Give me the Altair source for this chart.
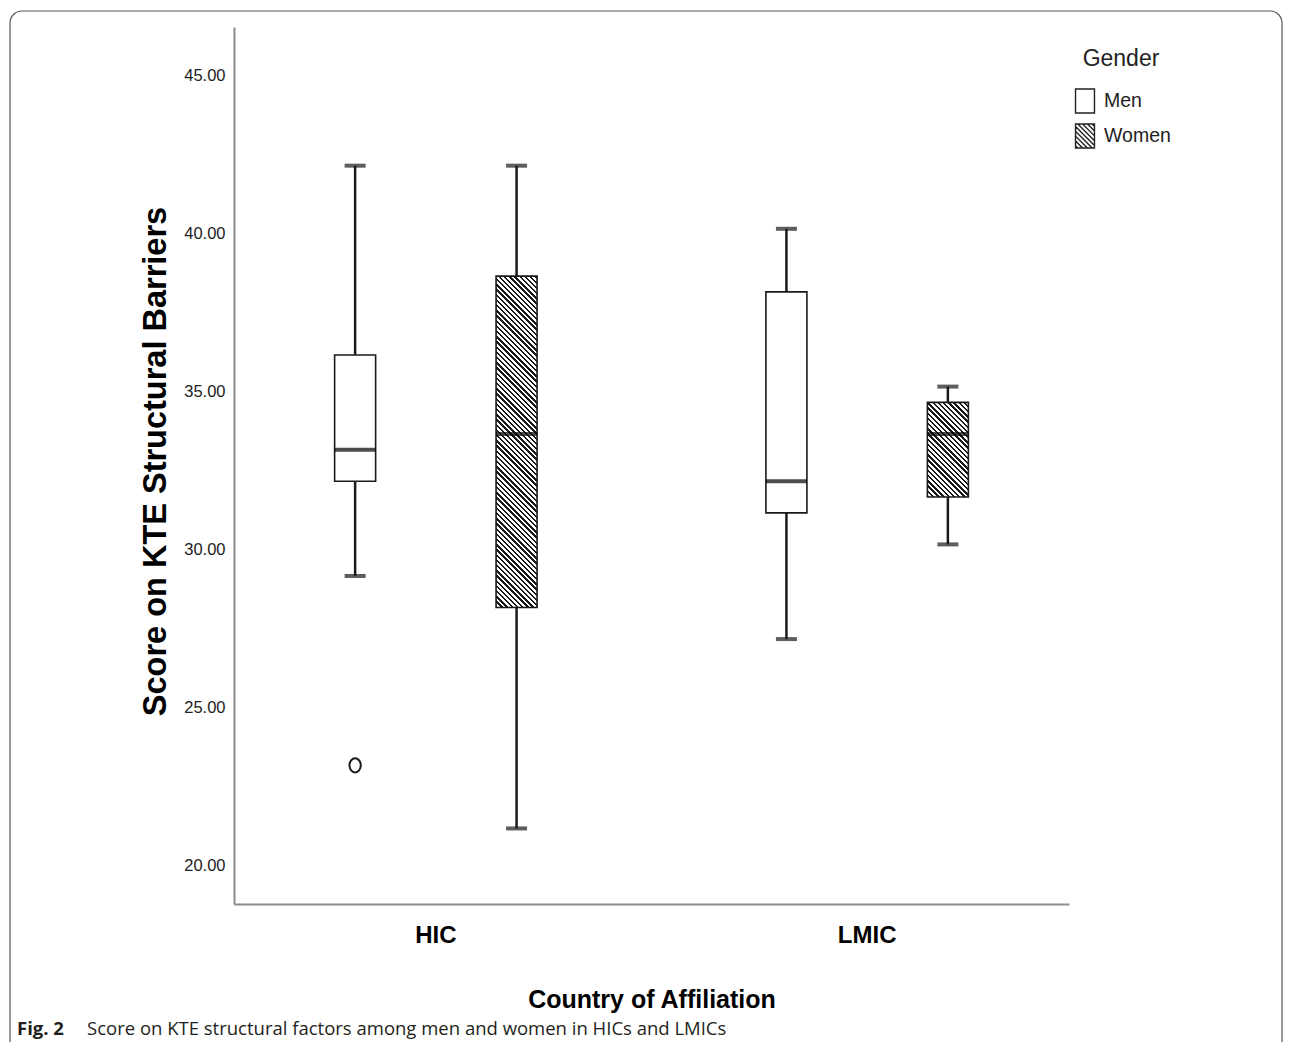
import altair as alt
import pandas as pd

# ---------------- data ----------------
countries = ["HIC", "HIC", "LMIC", "LMIC"]
genders = ["Men", "Women", "Men", "Women"]
whisker_low = [29, 21, 27, 30]
quartile_1 = [32, 28, 31, 31.5]
medians = [33, 33.5, 32, 33.5]
quartile_3 = [36, 38.5, 38, 34.5]
whisker_high = [42, 42, 40, 35]

outlier_country = ["HIC"]
outlier_gender = ["Men"]
outlier_value = [23]

country_order = ["HIC", "LMIC"]
gender_order = ["Men", "Women"]
y_ticks = [20, 25, 30, 35, 40, 45]

caption_label = ["Fig. 2"]
caption_text = ["Score on KTE structural factors among men and women in HICs and LMICs"]

# ---------------- layout / style ----------------
PLOT_W, PLOT_H = 835, 877
Y_DOMAIN = [18.606, 46.394]
PX_PER_UNIT = PLOT_H / (Y_DOMAIN[1] - Y_DOMAIN[0])
BOX_W = 41
INK = "#1a1a1a"
AXIS_GRAY = "#8c8c8c"
SANS = "Liberation Sans, Arial, sans-serif"
CAPTION_FONT = "Open Sans, Noto Sans, sans-serif"

box = pd.DataFrame({
    "country": countries, "gender": genders, "lower": whisker_low,
    "q1": quartile_1, "median": medians, "q3": quartile_3, "upper": whisker_high,
})
outliers = pd.DataFrame({"country": outlier_country, "gender": outlier_gender,
                         "value": outlier_value})


def hatch_gradient(w, h, spacing=5.2, ink=0.45):
    """Diagonal '\\' hatching as a striped linear gradient (bounding-box units)."""
    t = (w + h) / (w * w + h * h)
    n = (w + h) / spacing
    stops = []
    k = 0
    while k / n < 1:
        a = k / n
        b = min((k + ink) / n, 1.0)
        c = min((k + 1) / n, 1.0)
        stops += [
            {"offset": a, "color": INK}, {"offset": b, "color": INK},
            {"offset": b, "color": "white"}, {"offset": c, "color": "white"},
        ]
        k += 1
    return alt.LinearGradient(gradient="linear", stops=stops,
                              x1=0, y1=1, x2=t * w, y2=1 - t * h)


# legend symbol paths
HW = 0.79
MEN_PATH = f"M{-HW},-1H{HW}V1H{-HW}Z"
segs = []
c = -1.6
while c <= 1.61:
    x0 = max(-HW, c - 1)
    x1 = min(HW, c + 1)
    if x1 > x0:
        segs.append(f"M{x0:.3f},{x0 - c:.3f}L{x1:.3f},{x1 - c:.3f}")
    c += 0.4
WOMEN_PATH = MEN_PATH + "".join(segs)
OUTLIER_PATH = "M-0.8,0A0.8,1 0 1,1 0.8,0A0.8,1 0 1,1 -0.8,0Z"

x_enc = alt.X(
    "country:N",
    scale=alt.Scale(domain=country_order, paddingInner=0.3, paddingOuter=0.118),
    axis=alt.Axis(
        title="Country of Affiliation", labelAngle=0, ticks=False,
        domainColor=AXIS_GRAY, domainWidth=2,
        labelFont=SANS, labelFontSize=24, labelFontWeight="bold",
        labelColor="black", labelPadding=19,
        titleFont=SANS, titleFontSize=25, titleFontWeight="bold",
        titleColor="black", titleY=103, titleBaseline="alphabetic",
    ),
)
xoff_enc = alt.XOffset(
    "gender:N", scale=alt.Scale(domain=gender_order, paddingInner=0.13, paddingOuter=0)
)
y_scale = alt.Scale(domain=Y_DOMAIN, nice=False, zero=False)
y_axis = alt.Axis(
    title="Score on KTE Structural Barriers", values=y_ticks, format=".2f",
    ticks=False, grid=False, domainColor=AXIS_GRAY, domainWidth=2,
    labelFont=SANS, labelFontSize=16.5, labelColor="#222", labelPadding=9,
    labelOffset=5,
    titleFont=SANS, titleFontSize=32.5, titleFontWeight="bold", titleColor="black",
    titleX=-79, titleY=434, titleBaseline="middle",
)

base = alt.Chart(box).encode(x=x_enc, xOffset=xoff_enc)

whisk_lo = base.mark_rule(color=INK, strokeWidth=2.5).encode(
    y=alt.Y("lower:Q", scale=y_scale, axis=y_axis), y2="q1:Q")
whisk_hi = base.mark_rule(color=INK, strokeWidth=2.5).encode(
    y=alt.Y("q3:Q"), y2="upper:Q")
cap_lo = base.mark_tick(color=INK, size=21, thickness=4).encode(y="lower:Q")
cap_hi = base.mark_tick(color=INK, size=21, thickness=4).encode(y="upper:Q")

men_box = base.transform_filter(alt.datum.gender == "Men").mark_bar(
    width=BOX_W, fill="white", stroke=INK, strokeWidth=1.6
).encode(y="q1:Q", y2="q3:Q")

women_layers = []
for cty, g, a, b in zip(countries, genders, quartile_1, quartile_3):
    if g != "Women":
        continue
    h = (b - a) * PX_PER_UNIT
    women_layers.append(
        base.transform_filter(
            (alt.datum.gender == "Women") & (alt.datum.country == cty)
        ).mark_bar(
            width=BOX_W, fill=hatch_gradient(BOX_W, h), stroke=INK, strokeWidth=1.6
        ).encode(y="q1:Q", y2="q3:Q")
    )

median_tick = base.mark_tick(color="black", size=BOX_W, thickness=4).encode(y="median:Q")

outlier_pts = alt.Chart(outliers).mark_point(
    shape=OUTLIER_PATH, size=200, filled=False, stroke=INK, strokeWidth=2, opacity=1
).encode(x=x_enc, xOffset=xoff_enc, y="value:Q")

legend_pts = base.mark_point(opacity=0, color=INK).encode(
    y="median:Q",
    shape=alt.Shape(
        "gender:N",
        scale=alt.Scale(domain=gender_order, range=[MEN_PATH, WOMEN_PATH]),
        legend=alt.Legend(
            title="Gender", orient="none", legendX=838, legendY=21,
            titleAnchor="middle", titleFont=SANS, titleFontSize=23,
            titleFontWeight="normal", titleColor="#222", titlePadding=17,
            labelFont=SANS, labelFontSize=19.5, labelColor="#222", labelOffset=6,
            symbolSize=576, symbolStrokeWidth=1.4, symbolStrokeColor="#222",
            symbolFillColor="white", symbolOpacity=1, rowPadding=5, padding=0,
        ),
    ),
)

cap_df = pd.DataFrame({"label": caption_label, "text": caption_text})
cap_bold = alt.Chart(cap_df).mark_text(
    font=CAPTION_FONT, fontSize=18.5, fontWeight="bold", color="#231f20",
    align="left", baseline="alphabetic"
).encode(x=alt.value(-217), y=alt.value(1008), text="label:N")
cap_reg = alt.Chart(cap_df).mark_text(
    font=CAPTION_FONT, fontSize=18.5, color="#231f20",
    align="left", baseline="alphabetic"
).encode(x=alt.value(-147), y=alt.value(1008), text="text:N")

frame = alt.Chart(cap_df).mark_rect(
    fillOpacity=0, stroke="#555", strokeWidth=1.2, cornerRadius=12
).encode(x=alt.value(-224), x2=alt.value(1048), y=alt.value(-16), y2=alt.value(1040))

chart = alt.layer(
    whisk_lo, whisk_hi, cap_lo, cap_hi, men_box, *women_layers, median_tick,
    outlier_pts, legend_pts, cap_bold, cap_reg, frame,
).properties(
    width=PLOT_W, height=PLOT_H, background="white",
    padding={"left": 226, "top": 19, "right": 215, "bottom": 138},
    autosize=alt.AutoSizeParams(type="none"),
).configure_view(strokeWidth=0)

chart.save("out.html", embed_options={"renderer": "svg", "actions": False})
